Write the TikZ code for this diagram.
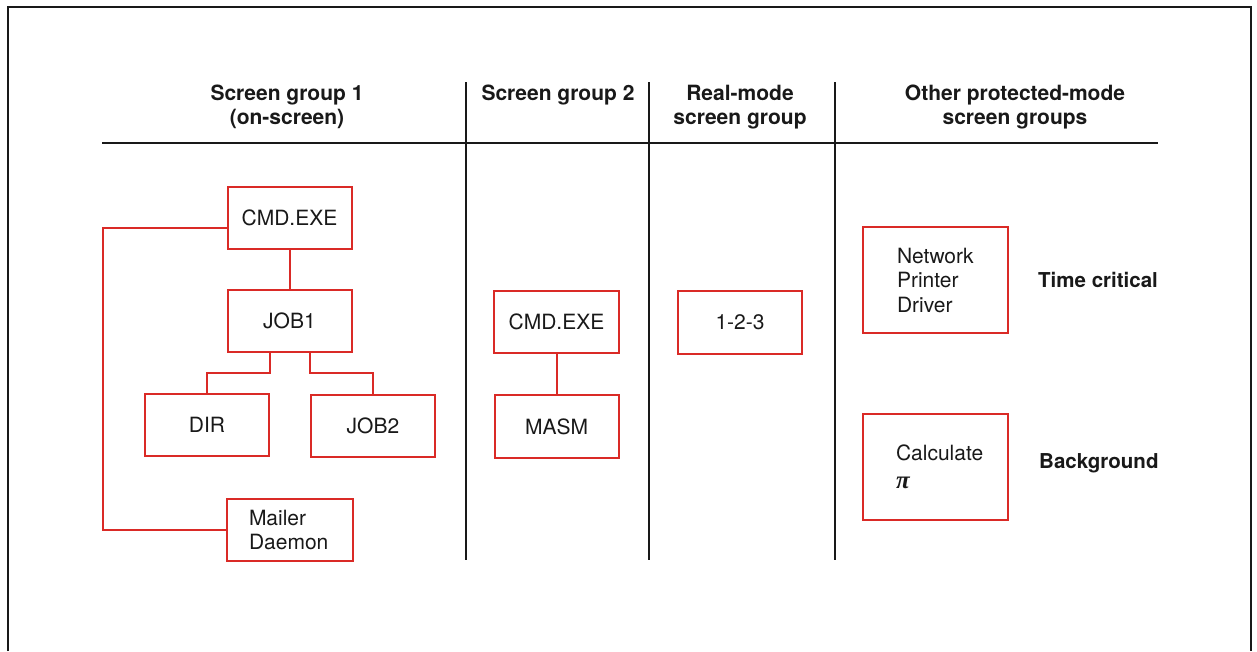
\documentclass[tikz,border=0pt]{standalone}
\usepackage{fontspec}
\setmainfont{TeX Gyre Heros}
\newfontfamily\pifont{Liberation Serif}
\definecolor{boxred}{RGB}{218,42,38}
\definecolor{ink}{RGB}{25,25,25}
\tikzset{
  box/.style={draw=boxred, line width=2pt, minimum width=124pt, minimum height=62pt,
    inner sep=0pt, text=ink, font=\fontsize{21}{24.5}\selectfont},
  bigbox/.style={box, minimum width=145pt, minimum height=106pt, align=left},
  head/.style={font=\bfseries\fontsize{21}{24.5}\selectfont, align=center, text=ink, inner sep=0pt},
  side/.style={font=\bfseries\fontsize{20.5}{24}\selectfont, text=ink, inner sep=0pt, anchor=west},
  rule/.style={draw=ink, line width=2pt},
  link/.style={draw=boxred, line width=2pt},
}
\begin{document}
\begin{tikzpicture}[x=1pt,y=-1pt]
\useasboundingbox (0,0) rectangle (1257,651);
% outer frame
\draw[rule, line width=2.4pt] (8,651) -- (8,7) -- (1251,7) -- (1251,651);
% headings
\node[head] (h1) at (287,107) {Screen group 1\\(on-screen)};
\node[head] (h2) at (558,95) {Screen group 2};
\node[head] (h3) at (740,107) {Real-mode\\screen group};
\node[head] (h4) at (1015,107) {Other protected-mode\\screen groups};
% rules
\draw[rule, line width=2.6pt] (102,143) -- (1158,143);
\draw[rule] (466,82) -- (466,560);
\draw[rule] (649,82) -- (649,560);
\draw[rule] (835,82) -- (835,560);
% group 1
\node[box] (cmd1) at (289.5,217.5) {CMD.EXE};
\node[box] (job1) at (289.5,321) {JOB1};
\node[box] (dir) at (207,425) {DIR};
\node[box] (job2) at (373,425.5) {JOB2};
\node[box, minimum width=126pt, text width=82pt, inner xsep=22pt, align=left] (mailer) at (290,530) {Mailer\\Daemon};
% group 2
\node[box, minimum width=125pt] (cmd2) at (556.5,322) {CMD.EXE};
\node[box, minimum height=63pt] (masm) at (556.5,426.5) {MASM};
% real mode
\node[box, minimum height=63pt] (lotus) at (740,322.5) {1-2-3};
% other
\node[bigbox, text width=77pt, inner xsep=34pt] (net) at (935.5,280) {Network\\Printer\\Driver};
\node[bigbox, text width=79pt, inner xsep=33pt] (calc) at (935.5,467) {Calculate\\[3pt]{\pifont\itshape\bfseries\fontsize{25}{25}\selectfont π}};
\node[side] (tc) at (1038,280) {Time critical};
\node[side] (bg) at (1039,463) {Background};
% connectors
\coordinate (spine) at (103,380);
\draw[link] (cmd1.south) -- (job1.north);
\draw[link] ([xshift=-20pt]job1.south) -- ++(0,20) -| (dir.north);
\draw[link] ([xshift=20pt]job1.south) -- ++(0,20) -| (job2.north);
\draw[link] ([yshift=-10.5pt]cmd1.west) -| (spine) |- (mailer.west);
\draw[link] (cmd2.south) -- (masm.north);
\end{tikzpicture}
\end{document}
